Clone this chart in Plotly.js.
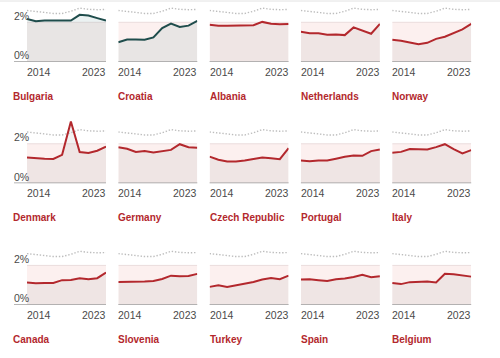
<!DOCTYPE html>
<html>
<head>
<meta charset="utf-8">
<script src="https://cdn.plot.ly/plotly-3.0.1.min.js"></script>
<style>html,body{margin:0;padding:0;background:#fff;}#chart{width:500px;height:358px;}</style>
</head>
<body>
<div id="chart"></div>
<script>
const years = [2014, 2015, 2016, 2017, 2018, 2019, 2020, 2021, 2022, 2023];
const tickFirst = '2014';
const tickLast = '2023';
const yTickLabels = ['0%', '2%'];
const countries = ['Bulgaria', 'Croatia', 'Albania', 'Netherlands', 'Norway',
  'Denmark', 'Germany', 'Czech Republic', 'Portugal', 'Italy',
  'Canada', 'Slovenia', 'Turkey', 'Spain', 'Belgium'];
const highlighted = ['Bulgaria', 'Croatia'];

const natoAvg     = [2.60, 2.55, 2.49, 2.45, 2.45, 2.56, 2.72, 2.66, 2.64, 2.65];
const bulgaria    = [2.17, 2.05, 2.09, 2.09, 2.10, 2.09, 2.38, 2.34, 2.21, 2.09];
const croatia     = [0.99, 1.13, 1.13, 1.11, 1.23, 1.71, 1.93, 1.76, 1.83, 2.07];
const albania     = [1.87, 1.82, 1.82, 1.82, 1.83, 1.85, 2.02, 1.93, 1.90, 1.92];
const netherlands = [1.52, 1.44, 1.44, 1.37, 1.38, 1.35, 1.74, 1.57, 1.42, 1.92];
const norway      = [1.11, 1.06, 0.97, 0.89, 0.96, 1.16, 1.27, 1.47, 1.64, 1.92];
const denmark     = [1.31, 1.26, 1.24, 1.23, 1.44, 3.13, 1.58, 1.53, 1.65, 1.86];
const germany     = [1.83, 1.75, 1.59, 1.63, 1.56, 1.61, 1.69, 1.98, 1.83, 1.80];
const czech       = [1.35, 1.19, 1.10, 1.10, 1.15, 1.24, 1.30, 1.27, 1.22, 1.78];
const portugal    = [1.15, 1.12, 1.15, 1.15, 1.24, 1.34, 1.40, 1.39, 1.63, 1.71];
const italy       = [1.54, 1.59, 1.73, 1.71, 1.71, 1.83, 1.98, 1.73, 1.51, 1.68];
const canada      = [1.13, 1.10, 1.11, 1.11, 1.25, 1.26, 1.35, 1.30, 1.35, 1.64];
const slovenia    = [1.16, 1.16, 1.16, 1.18, 1.21, 1.31, 1.48, 1.45, 1.46, 1.57];
const turkey      = [0.91, 0.99, 0.91, 0.99, 1.08, 1.16, 1.28, 1.36, 1.30, 1.48];
const spain       = [1.28, 1.30, 1.25, 1.21, 1.30, 1.33, 1.41, 1.52, 1.40, 1.45];
const belgium     = [1.11, 1.05, 1.15, 1.16, 1.18, 1.13, 1.57, 1.55, 1.48, 1.43];

const series = [bulgaria, croatia, albania, netherlands, norway,
  denmark, germany, czech, portugal, italy,
  canada, slovenia, turkey, spain, belgium];

// layout geometry (pixels)
const W = 500, H = 358;
const colLeft = [27, 118.3, 209.6, 300.9, 392.2];
const plotW = 79;
const base = [61.7, 183.2, 304.8];
const pxPerUnit = 19.7;
const yTop = [3.0, 3.4, 3.4];
const target = 2;

const RED = '#b3282d', TEAL = '#1f4d4c';
const FONT = '"Liberation Sans", Arial, sans-serif';

const px = v => v / W;
const py = v => (H - v) / H;

const data = [];
const layout = {
  width: W, height: H,
  margin: {l: 0, r: 0, t: 0, b: 0},
  paper_bgcolor: '#fff', plot_bgcolor: 'rgba(0,0,0,0)',
  showlegend: false,
  shapes: [], annotations: [],
  font: {family: FONT}
};

layout.shapes.push({type: 'line', xref: 'paper', yref: 'paper', x0: 0, x1: 1,
  y0: py(1), y1: py(1), line: {color: '#e2e2e2', width: 1}, layer: 'above'});

countries.forEach((name, i) => {
  const r = Math.floor(i / 5), c = i % 5, n = i + 1;
  const xa = 'xaxis' + (n === 1 ? '' : n), ya = 'yaxis' + (n === 1 ? '' : n);
  const xr = 'x' + (n === 1 ? '' : n), yr = 'y' + (n === 1 ? '' : n);
  const left = colLeft[c], right = colLeft[c] + plotW;
  layout[xa] = {domain: [px(left), px(right)], range: [years[0], years[years.length - 1]],
    visible: false, fixedrange: true};
  layout[ya] = {domain: [py(base[r]), py(base[r] - yTop[r] * pxPerUnit)], range: [0, yTop[r]],
    visible: false, fixedrange: true};

  const hl = highlighted.includes(name);
  const col = hl ? TEAL : RED;

  // band 0..2%
  layout.shapes.push({type: 'rect', xref: xr, yref: yr, x0: years[0], x1: years[years.length - 1],
    y0: 0, y1: target, fillcolor: '#fcf0ef', line: {width: 0}, layer: 'below'});
  layout.shapes.push({type: 'line', xref: xr, yref: yr, x0: years[0], x1: years[years.length - 1],
    y0: target, y1: target, line: {color: '#eadcdc', width: 1}, layer: 'below'});
  // zero line
  layout.shapes.push({type: 'line', xref: 'paper', yref: yr, x0: px(c === 0 ? 14 : left), x1: px(right),
    y0: 0, y1: 0, line: {color: '#9c9c9c', width: 1.5}, layer: 'above'});

  data.push({x: years, y: natoAvg, xaxis: xr, yaxis: yr, type: 'scatter', mode: 'lines',
    line: {color: '#bdbdbd', width: 1.4, dash: '1.4px,1.8px'}, hoverinfo: 'skip'});
  data.push({x: years, y: series[i], xaxis: xr, yaxis: yr, type: 'scatter', mode: 'lines',
    fill: 'tozeroy', fillcolor: hl ? 'rgba(120,170,170,0.15)' : 'rgba(160,165,165,0.14)',
    line: {color: col, width: 2}, hoverinfo: 'skip'});

  // year labels
  const yy = py(base[r] + 10);
  layout.annotations.push({xref: 'paper', yref: 'paper', x: px(left), y: yy, xanchor: 'left', yanchor: 'middle',
    text: tickFirst, showarrow: false, xshift: -2, font: {size: 10.5, color: '#4a4a4a', family: FONT}});
  layout.annotations.push({xref: 'paper', yref: 'paper', x: px(right), y: yy, xanchor: 'right', yanchor: 'middle',
    text: tickLast, showarrow: false, xshift: 2, font: {size: 10.5, color: '#4a4a4a', family: FONT}});

  // country name
  layout.annotations.push({xref: 'paper', yref: 'paper', x: px(c === 0 ? 13.3 : left), y: py(base[r] + 34.5),
    xanchor: 'left', yanchor: 'middle', text: '<b>' + name + '</b>', showarrow: false, xshift: -2,
    font: {size: 10, color: RED, family: FONT}});

  // y labels on first column
  if (c === 0) {
    layout.annotations.push({xref: 'paper', yref: 'paper', x: px(14.3), y: py(base[r] - 6.7),
      xanchor: 'left', yanchor: 'middle', text: yTickLabels[0], showarrow: false, xshift: -2,
      font: {size: 10.5, color: '#4a4a4a', family: FONT}});
    layout.annotations.push({xref: 'paper', yref: 'paper', x: px(14.3), y: py(base[r] - target * pxPerUnit - 6.7),
      xanchor: 'left', yanchor: 'middle', text: yTickLabels[1], showarrow: false, xshift: -2,
      font: {size: 10.5, color: '#4a4a4a', family: FONT}});
  }
});

Plotly.newPlot('chart', data, layout, {displayModeBar: false, staticPlot: true});
</script>
</body>
</html>
